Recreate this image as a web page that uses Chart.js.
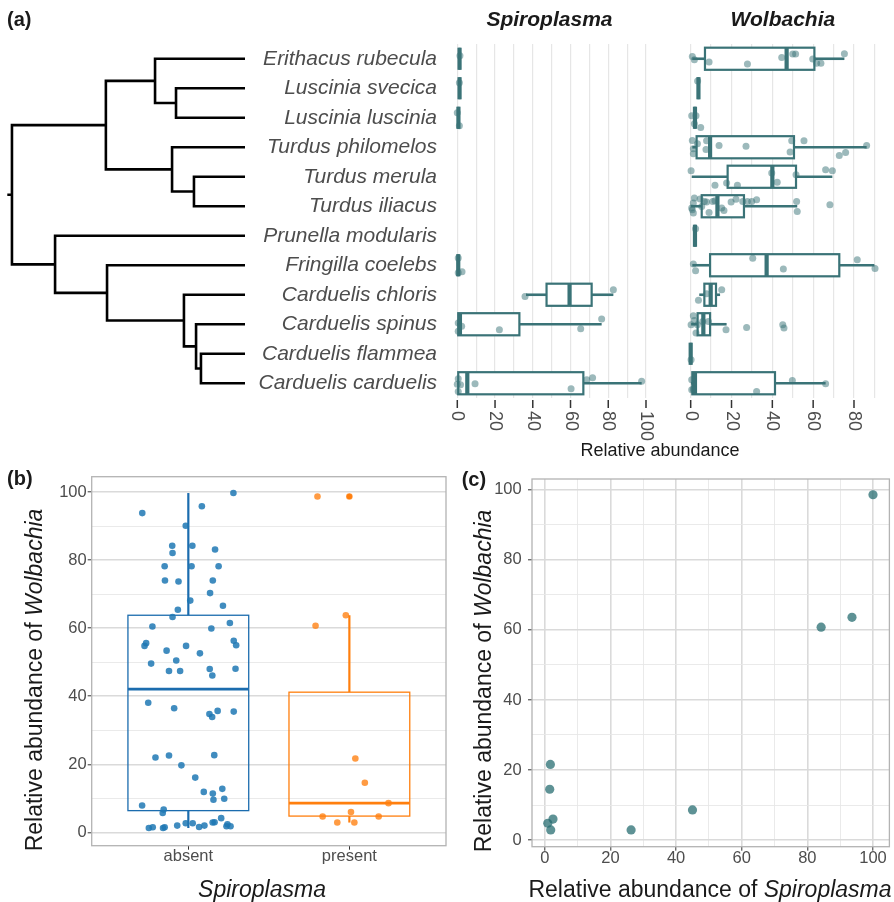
<!DOCTYPE html>
<html>
<head>
<meta charset="utf-8">
<script src="https://cdn.jsdelivr.net/npm/chart.js@4.4.1/dist/chart.umd.min.js"></script>
<style>
  html, body { margin: 0; padding: 0; background: #fff; }
  #fig { position: relative; width: 894px; height: 902px; overflow: hidden; }
  #fig canvas { position: absolute; }
</style>
</head>
<body>
<div id="fig">
  <canvas id="tree" width="250" height="460" style="left:0;top:0"></canvas>
  <canvas id="spiro" width="644" height="460" style="left:250px;top:0"></canvas>
  <canvas id="wolb" width="234" height="460" style="left:660px;top:0"></canvas>
  <canvas id="boxes" width="450" height="442" style="left:0;top:460px"></canvas>
  <canvas id="scatter" width="444" height="442" style="left:450px;top:460px"></canvas>
</div>
<script>
// ---------------- data ----------------
const species = [
  "Erithacus rubecula", "Luscinia svecica", "Luscinia luscinia", "Turdus philomelos",
  "Turdus merula", "Turdus iliacus", "Prunella modularis", "Fringilla coelebs",
  "Carduelis chloris", "Carduelis spinus", "Carduelis flammea", "Carduelis carduelis"
];

// tree : internal nodes, parent and depth (root = 0, tips = 100)
const nodeIds    = ["root", "A", "A1", "A1b", "A2", "A2b", "B", "B1", "B1b", "B1c", "B1d"];
const nodeParent = [null, "root", "A", "A1", "A", "A2", "root", "B", "B1", "B1b", "B1c"];
const nodeDepth  = [0, 40.3, 61.4, 70.4, 68.7, 78.1, 18.5, 40.8, 73.8, 79.0, 81.1];
const tipParent  = ["A1", "A1b", "A1b", "A2", "A2b", "A2b", "B", "B1", "B1b", "B1c", "B1d", "B1d"];
const tipDepth = 100;
const rootStub = -1.7;

// boxplot stats [lower whisker, q1, median, q3, upper whisker], null = no data
const spiroStats = [
  [1.2, 1.2, 1.2, 1.2, 1.2], [1.2, 1.2, 1.2, 1.2, 1.2], [0.6, 0.6, 0.6, 0.6, 0.6],
  null, null, null, null,
  [0.5, 0.5, 0.5, 0.5, 0.5], [36.4, 47.3, 59.5, 71.2, 82.7], [0, 0.5, 1.4, 32.9, 76.5],
  null, [0, 0.5, 5.3, 66.8, 97.7]
];
const wolbStats = [
  [0.8, 7.0, 47.0, 60.6, 75.3], [3.8, 3.8, 3.8, 3.8, 3.8], [2.1, 2.1, 2.1, 2.1, 2.1],
  [0.8, 2.9, 9.5, 50.6, 86.2], [0.5, 18.1, 40.0, 51.6, 69.4], [0, 5.4, 13.1, 26.1, 52.2],
  [2.1, 2.1, 2.1, 2.1, 2.1], [0.8, 9.5, 37.2, 72.8, 90.0], [4.2, 6.7, 9.8, 12.4, 14.4],
  [0.2, 3.4, 6.2, 9.5, 17.6], [0, 0, 0, 0, 0], [0.2, 0.8, 2.1, 41.3, 66.1]
];

// individual samples per species: [relative abundance, vertical jitter (rows)]
const spiroPoints = [
  [[1.4, -0.10]],
  [[1.1, -0.19]],
  [[0, -0.17], [1.1, 0.27]],
  [], [], [], [],
  [[0.5, -0.25], [0.5, 0.25], [2.5, 0.22]],
  [[35.9, 0.06], [82.7, -0.17]],
  [[0.5, -0.04], [0.5, 0.24], [2.3, 0.07], [22.3, 0.19], [65.4, 0.15], [76.5, -0.18]],
  [],
  [[0.5, -0.15], [0, 0.03], [1.7, 0.05], [0.5, 0.28], [9.4, 0.02], [60.3, 0.19], [68.6, -0.12], [71.7, -0.19], [97.7, -0.07]]
];
const wolbPoints = [
  [[0.8, -0.08], [1.8, 0.03], [9.0, 0.11], [27.8, 0.18], [44.6, -0.04], [50.0, -0.16], [51.4, -0.16], [59.8, 0.01], [61.7, 0.15], [63.8, 0.15], [75.3, -0.17]],
  [[3.4, -0.25]],
  [[0.5, -0.07], [2.6, -0.07], [1.8, 0.2], [4.9, 0.33]],
  [[0.8, -0.23], [1.3, 0.05], [1.3, 0.22], [3.3, -0.12], [7.8, -0.22], [7.5, 0.08], [13.9, -0.06], [27.1, -0.03], [48.7, 0.16], [49.5, -0.22], [55.5, -0.22], [72.8, 0.28], [75.9, 0.18], [86.2, -0.06]],
  [[0.2, -0.2], [11.9, 0.29], [17.6, 0.21], [22.9, 0.29], [39.7, -0.13], [42.4, 0.19], [51.6, -0.07], [66.1, -0.24], [69.4, -0.2]],
  [[0.5, 0.06], [1.3, -0.11], [1.8, -0.28], [0.8, 0.12], [1.3, 0.23], [4.6, -0.25], [5.4, 0.01], [6.7, -0.16], [7.8, -0.14], [9.0, 0.21], [10.8, -0.16], [11.9, -0.19], [15.2, 0.06], [16.3, 0.14], [19.8, -0.14], [22.2, -0.24], [25.5, -0.16], [27.8, -0.16], [29.9, -0.16], [32.3, -0.22], [51.9, -0.16], [52.2, 0.18], [68.2, -0.05]],
  [[2.4, -0.24]],
  [[1.3, -0.04], [2.4, 0.19], [30.4, -0.24], [45.4, 0.13], [81.6, -0.19], [90.3, 0.11]],
  [[3.8, 0.19], [15.2, -0.17], [7.8, -0.03]],
  [[1.3, -0.29], [0.2, 0.02], [1.8, -0.13], [3.3, 0.02], [5.9, -0.09], [8.7, -0.09], [2.6, 0.3], [17.3, 0.19], [27.4, 0.11], [45.1, 0.02], [45.7, 0.13]],
  [[0.2, 0.2]],
  [[0.5, -0.12], [0.5, 0.22], [1.3, 0.2], [32.3, 0.28], [49.8, -0.09], [66.1, 0.02]]
];
const spiroGrid = [0, 10, 20, 30, 40, 50, 60, 70, 80, 90, 100];
const spiroTicks = [0, 20, 40, 60, 80, 100];
const wolbGrid = [0, 10, 20, 30, 40, 50, 60, 70, 80, 90];
const wolbTicks = [0, 20, 40, 60, 80];

// panel b : Wolbachia abundance by Spiroplasma status
const groups = ["absent", "present"];
const groupStats = [[1.3, 6.4, 42.1, 63.8, 99.7], [2.9, 4.8, 8.6, 41.2, 63.8]];
const groupOutliers = [[], [98.7]];
const absentWolb = [93.8, 99.7, 95.8, 90.1, 84.2, 82.1, 84.2, 83.1, 78.2, 78.2, 78.2, 74.0, 73.7, 74.0, 70.3,
  68.1, 66.6, 65.4, 63.3, 60.5, 59.9, 61.5, 55.6, 54.8, 54.8, 53.4, 52.6, 56.3, 55.0, 49.6, 50.5, 47.4, 47.4,
  48.0, 48.1, 46.1, 38.1, 36.5, 34.8, 33.9, 35.7, 35.5, 22.0, 22.6, 22.7, 19.7, 16.1, 11.9, 11.4, 9.6, 12.8,
  9.9, 7.9, 6.7, 5.7, 1.3, 1.5, 1.3, 1.5, 2.0, 2.7, 2.7, 1.6, 2.0, 2.9, 3.0, 4.2, 1.8, 2.4, 1.8];
const absentJitter = [-0.286, 0.28, 0.084, -0.016, -0.10, -0.098, 0.025, 0.166, -0.147, 0.02, 0.188, -0.145,
  -0.061, 0.152, 0.135, 0.012, 0.215, -0.065, -0.098, -0.223, 0.143, 0.258, -0.262, -0.272, -0.014, -0.135,
  0.072, 0.282, 0.297, -0.231, -0.075, -0.12, -0.051, 0.133, 0.293, 0.149, -0.249, -0.088, 0.131, 0.148,
  0.182, 0.282, -0.204, -0.12, 0.161, -0.043, 0.043, 0.096, 0.152, 0.156, 0.211, 0.223, -0.287, -0.153,
  -0.159, -0.245, -0.221, -0.157, -0.147, -0.069, -0.016, 0.027, 0.067, 0.10, 0.151, 0.163, 0.204, 0.237,
  0.243, 0.262];
const presentWolb = [98.7, 98.7, 60.7, 63.8, 21.7, 14.6, 8.6, 4.7, 2.9, 6.0, 2.9, 4.7];
const presentJitter = [-0.198, 0.0, -0.21, -0.022, 0.037, 0.096, 0.243, -0.166, -0.075, 0.01, 0.031, 0.182];
const bGrid = [0, 10, 20, 30, 40, 50, 60, 70, 80, 90, 100];

// panel c : co-infected samples
const spiroAbund = [100, 84.2, 93.6, 45.0, 26.3, 1.7, 1.5, 2.5, 0.9, 1.8];
const wolbAbund = [98.6, 60.8, 63.6, 8.6, 2.9, 21.6, 14.5, 6.0, 4.8, 2.9];
const cGrid = [0, 10, 20, 30, 40, 50, 60, 70, 80, 90, 100];

// ---------------- styles ----------------
const FONT = '"Liberation Sans", Arial, Helvetica, sans-serif';
const INK = "#1a1a1a";
const GREY = "#4d4d4d";
const TEAL = "#3a7377";
const TEAL_PT = "rgba(58,115,119,0.5)";
const BLUE = "#1b6cae";
const BLUE_PT = "rgba(31,120,180,0.85)";
const ORANGE = "#ff7f0e";
const ORANGE_PT = "rgba(255,127,14,0.78)";
const SCAT_PT = "rgba(40,110,113,0.75)";

Chart.defaults.font.family = FONT;
Chart.defaults.animation = false;
Chart.defaults.events = [];
Chart.defaults.plugins.legend.display = false;
Chart.defaults.plugins.tooltip.enabled = false;

// ---------------- helpers / plugins ----------------
function drawRuns(ctx, t) {
  ctx.save();
  ctx.translate(t.x, t.y);
  ctx.rotate(t.angle || 0);
  ctx.textBaseline = "middle";
  ctx.textAlign = "left";
  let total = 0;
  t.runs.forEach(function (r) { ctx.font = r[1]; total += ctx.measureText(r[0]).width; });
  let cx = t.align === "left" ? 0 : -total / 2;
  ctx.fillStyle = t.color || INK;
  t.runs.forEach(function (r) {
    ctx.font = r[1];
    ctx.fillText(r[0], cx, 0);
    cx += ctx.measureText(r[0]).width;
  });
  ctx.restore();
}

const textPlugin = {
  id: "texts",
  afterDraw(chart, args, o) {
    (o.items || []).forEach(function (t) {
      const item = Object.assign({}, t);
      if (item.x === "mid") item.x = (chart.chartArea.left + chart.chartArea.right) / 2;
      drawRuns(chart.ctx, item);
    });
  }
};

const boxPlugin = {
  id: "boxes",
  beforeDatasetsDraw(chart, args, o) {
    if (!o.stats) return;
    const ctx = chart.ctx;
    const vs = chart.scales[o.horizontal ? "x" : "y"];
    const ps = chart.scales[o.horizontal ? "y" : "x"];
    const pt = function (v, w) { return o.horizontal ? [v, w] : [w, v]; };
    ctx.save();
    o.stats.forEach(function (s, i) {
      if (!s) return;
      const pos = o.positions ? o.positions[i] : i;
      const c = ps.getPixelForValue(pos);
      const hw = Math.abs(ps.getPixelForValue(pos + o.halfWidth) - c);
      const p = s.map(function (v) { return vs.getPixelForValue(v); });
      const color = Array.isArray(o.color) ? o.color[i] : o.color;
      ctx.strokeStyle = color;
      const line = function (v1, w1, v2, w2, lw) {
        const a = pt(v1, w1), b = pt(v2, w2);
        ctx.lineWidth = lw;
        ctx.beginPath(); ctx.moveTo(a[0], a[1]); ctx.lineTo(b[0], b[1]); ctx.stroke();
      };
      line(p[0], c, p[1], c, o.whiskerWidth);
      line(p[3], c, p[4], c, o.whiskerWidth);
      const a = pt(p[1], c - hw), b = pt(p[3], c + hw);
      const rx = Math.min(a[0], b[0]), ry = Math.min(a[1], b[1]);
      const rw = Math.abs(b[0] - a[0]), rh = Math.abs(b[1] - a[1]);
      if (o.fill) { ctx.fillStyle = o.fill; ctx.fillRect(rx, ry, rw, rh); }
      ctx.lineWidth = o.boxWidth;
      ctx.strokeRect(rx, ry, rw, rh);
      line(p[2], c - hw, p[2], c + hw, o.medianWidth);
      if (o.outliers && o.outliers[i]) {
        ctx.fillStyle = color;
        o.outliers[i].forEach(function (v) {
          const q = pt(vs.getPixelForValue(v), c);
          ctx.beginPath(); ctx.arc(q[0], q[1], 2.6, 0, Math.PI * 2); ctx.fill();
        });
      }
    });
    ctx.restore();
  }
};

// bottom ticks of panel a, rotated clockwise
const rotTickPlugin = {
  id: "rotTicks",
  afterDraw(chart, args, o) {
    if (!o.values) return;
    const ctx = chart.ctx;
    const xs = chart.scales.x;
    const bottom = chart.chartArea.bottom;
    ctx.save();
    o.values.forEach(function (v) {
      const px = xs.getPixelForValue(v);
      ctx.strokeStyle = "#333333";
      ctx.lineWidth = 1.5;
      ctx.beginPath(); ctx.moveTo(px, bottom + 2); ctx.lineTo(px, bottom + 10); ctx.stroke();
      ctx.save();
      ctx.translate(px, bottom + 13);
      ctx.rotate(Math.PI / 2);
      ctx.font = "18px " + FONT;
      ctx.fillStyle = GREY;
      ctx.textAlign = "left";
      ctx.textBaseline = "middle";
      ctx.fillText(String(v), 0, 0);
      ctx.restore();
    });
    ctx.restore();
  }
};

const borderPlugin = {
  id: "panelBorder",
  afterDatasetsDraw(chart, args, o) {
    if (!o.color) return;
    const a = chart.chartArea;
    chart.ctx.save();
    chart.ctx.strokeStyle = o.color;
    chart.ctx.lineWidth = 1.3;
    chart.ctx.strokeRect(a.left, a.top, a.right - a.left, a.bottom - a.top);
    chart.ctx.restore();
  }
};

// ---------------- panel a : tree ----------------
function childrenOf(id) {
  const kids = [];
  tipParent.forEach(function (p, i) { if (p === id) kids.push({ y: i, depth: tipDepth }); });
  nodeParent.forEach(function (p, i) { if (p === id) kids.push({ y: nodeY(nodeIds[i]), depth: nodeDepth[i] }); });
  return kids;
}
function nodeY(id) {
  const ys = childrenOf(id).map(function (k) { return k.y; });
  return (Math.min.apply(null, ys) + Math.max.apply(null, ys)) / 2;
}
function treeSegments() {
  const pts = [];
  const gap = { x: null, y: null };
  nodeIds.forEach(function (id, n) {
    const py = nodeY(id);
    const px = nodeDepth[n];
    childrenOf(id).forEach(function (k) {
      pts.push({ x: px, y: py }, { x: px, y: k.y }, { x: k.depth, y: k.y }, gap);
    });
  });
  const ry = nodeY("root");
  pts.push({ x: rootStub, y: ry }, { x: 0, y: ry });
  return pts;
}

const rowScale = { min: -0.5, max: 11.5, reverse: true };

new Chart(document.getElementById("tree"), {
  type: "scatter",
  data: {
    datasets: [{
      data: treeSegments(),
      showLine: true,
      spanGaps: false,
      borderColor: "#000000",
      borderWidth: 2.6,
      borderCapStyle: "square",
      borderJoinStyle: "miter",
      pointRadius: 0
    }]
  },
  options: {
    responsive: false,
    layout: { padding: { left: 7.3, right: 5, top: 44, bottom: 62 } },
    scales: {
      x: { type: "linear", display: false, min: -2, max: 100 },
      y: Object.assign({ type: "linear", display: false }, rowScale)
    },
    plugins: {
      texts: { items: [{ runs: [["(a)", "bold 20px " + FONT]], x: 7, y: 20, align: "left" }] }
    }
  },
  plugins: [textPlugin]
});

function rowPoints(list) {
  const out = [];
  list.forEach(function (row, i) {
    row.forEach(function (p) { out.push({ x: p[0], y: i + p[1] }); });
  });
  return out;
}

function facetXScale(min, max, grid) {
  return {
    type: "linear",
    min: min,
    max: max,
    afterBuildTicks: function (s) { s.ticks = grid.map(function (v) { return { value: v }; }); },
    afterFit: function (s) { s.height = 0; },
    ticks: { display: false },
    border: { display: false },
    grid: { color: "#e6e6e6", lineWidth: 1.2, drawTicks: false }
  };
}

function tealDataset(list) {
  return {
    data: rowPoints(list),
    backgroundColor: TEAL_PT,
    borderWidth: 0,
    pointRadius: 3.5
  };
}

new Chart(document.getElementById("spiro"), {
  type: "scatter",
  data: { datasets: [tealDataset(spiroPoints)] },
  options: {
    responsive: false,
    clip: false,
    layout: { padding: { left: 0, right: 243.1, top: 44, bottom: 62 } },
    scales: {
      x: facetXScale(-4.9, 102.6, spiroGrid),
      y: Object.assign({
        type: "linear",
        afterBuildTicks: function (s) { s.ticks = species.map(function (n, i) { return { value: i }; }); },
        afterFit: function (s) { s.width = 198.05; },
        border: { display: false },
        grid: { display: false },
        ticks: {
          autoSkip: false,
          padding: 3,
          color: GREY,
          font: { size: 21, style: "italic", family: FONT },
          callback: function (v) { return species[Math.round(v)]; }
        }
      }, rowScale)
    },
    plugins: {
      boxes: { horizontal: true, stats: spiroStats, halfWidth: 0.375, color: TEAL, fill: "#ffffff",
               whiskerWidth: 2.6, boxWidth: 2.2, medianWidth: 4.2 },
      rotTicks: { values: spiroTicks },
      texts: { items: [
        { runs: [["Spiroplasma", "italic bold 21px " + FONT]], x: "mid", y: 20 },
        { runs: [["Relative abundance", "18px " + FONT]], x: 410, y: 451 }
      ] }
    }
  },
  plugins: [boxPlugin, rotTickPlugin, textPlugin]
});

new Chart(document.getElementById("wolb"), {
  type: "scatter",
  data: { datasets: [tealDataset(wolbPoints)] },
  options: {
    responsive: false,
    clip: false,
    layout: { padding: { left: 21.5, right: 9.8, top: 44, bottom: 62 } },
    scales: {
      x: facetXScale(-4.5, 94.8, wolbGrid),
      y: Object.assign({ type: "linear", display: false }, rowScale)
    },
    plugins: {
      boxes: { horizontal: true, stats: wolbStats, halfWidth: 0.375, color: TEAL, fill: "#ffffff",
               whiskerWidth: 2.6, boxWidth: 2.2, medianWidth: 4.2 },
      rotTicks: { values: wolbTicks },
      texts: { items: [{ runs: [["Wolbachia", "italic bold 21px " + FONT]], x: "mid", y: 20 }] }
    }
  },
  plugins: [boxPlugin, rotTickPlugin, textPlugin]
});

// ---------------- panel b ----------------
function gridScale(min, max, grid, fitKey, fitSize, padding) {
  return {
    type: "linear",
    min: min,
    max: max,
    afterBuildTicks: function (s) { s.ticks = grid.map(function (v) { return { value: v }; }); },
    afterFit: function (s) { s[fitKey] = fitSize; },
    border: { display: false },
    grid: {
      color: function (c) { return c.tick && c.tick.value % 20 === 0 ? "#dadada" : "#e8e8e8"; },
      lineWidth: function (c) { return c.tick && c.tick.value % 20 === 0 ? 1.6 : 0.9; },
      tickLength: 4,
      tickColor: function (c) { return c.tick && c.tick.value % 20 === 0 ? "#333333" : "rgba(0,0,0,0)"; },
      tickWidth: 1
    },
    ticks: {
      autoSkip: false,
      maxRotation: 0,
      padding: padding,
      color: GREY,
      font: { size: 16.5, lineHeight: 1, family: FONT },
      callback: function (v) { return v % 20 === 0 ? String(v) : ""; }
    }
  };
}

const yB = gridScale(-3.9, 104.5, bGrid, "width", 91.7, 1);
const xB = {
  type: "linear",
  min: 0.4,
  max: 2.6,
  afterBuildTicks: function (s) { s.ticks = groups.map(function (g, i) { return { value: i + 1 }; }); },
  afterFit: function (s) { s.height = 56.3; },
  border: { display: false },
  grid: { drawOnChartArea: false, tickLength: 4, tickColor: "#333333", tickWidth: 1 },
  ticks: {
    padding: -1,
    color: GREY,
    font: { size: 16.5, lineHeight: 1, family: FONT },
    callback: function (v) { return groups[Math.round(v) - 1]; }
  }
};

new Chart(document.getElementById("boxes"), {
  type: "scatter",
  data: {
    datasets: [
      {
        data: absentWolb.map(function (v, i) { return { x: 1 + absentJitter[i], y: v }; }),
        backgroundColor: BLUE_PT, borderWidth: 0, pointRadius: 3.3
      },
      {
        data: presentWolb.map(function (v, i) { return { x: 2 + presentJitter[i], y: v }; }),
        backgroundColor: ORANGE_PT, borderWidth: 0, pointRadius: 3.3
      }
    ]
  },
  options: {
    responsive: false,
    layout: { padding: { left: 0, right: 1, top: 16.7, bottom: 0 } },
    scales: { x: xB, y: yB },
    plugins: {
      boxes: { horizontal: false, stats: groupStats, positions: [1, 2], halfWidth: 0.375,
               color: [BLUE, ORANGE], outliers: groupOutliers,
               whiskerWidth: 2.2, boxWidth: 1.3, medianWidth: 2.8 },
      panelBorder: { color: "#b3b3b3" },
      texts: { items: [
        { runs: [["(b)", "bold 20px " + FONT]], x: 7, y: 19, align: "left" },
        { runs: [["Relative abundance of ", "23px " + FONT], ["Wolbachia", "italic 23px " + FONT]],
          x: 36, y: 220, angle: -Math.PI / 2 },
        { runs: [["Spiroplasma", "italic 23px " + FONT]], x: 262, y: 431 }
      ] }
    }
  },
  plugins: [boxPlugin, borderPlugin, textPlugin]
});

// ---------------- panel c ----------------
const xC = gridScale(-3.9, 105.0, cGrid, "height", 55.3, -0.6);
const yC = gridScale(-1.9, 103.1, cGrid, "width", 82, 6.3);

new Chart(document.getElementById("scatter"), {
  type: "scatter",
  data: {
    datasets: [{
      data: spiroAbund.map(function (v, i) { return { x: v, y: wolbAbund[i] }; }),
      backgroundColor: SCAT_PT, borderWidth: 0, pointRadius: 4.6
    }]
  },
  options: {
    responsive: false,
    clip: false,
    layout: { padding: { left: 0, right: 3.3, top: 19, bottom: 0 } },
    scales: { x: xC, y: yC },
    plugins: {
      panelBorder: { color: "#b3b3b3" },
      texts: { items: [
        { runs: [["(c)", "bold 20px " + FONT]], x: 11.7, y: 20, align: "left" },
        { runs: [["Relative abundance of ", "23px " + FONT], ["Wolbachia", "italic 23px " + FONT]],
          x: 34.3, y: 221, angle: -Math.PI / 2 },
        { runs: [["Relative abundance of ", "23px " + FONT], ["Spiroplasma", "italic 23px " + FONT]],
          x: 260, y: 431 }
      ] }
    }
  },
  plugins: [borderPlugin, textPlugin]
});
</script>
</body>
</html>
